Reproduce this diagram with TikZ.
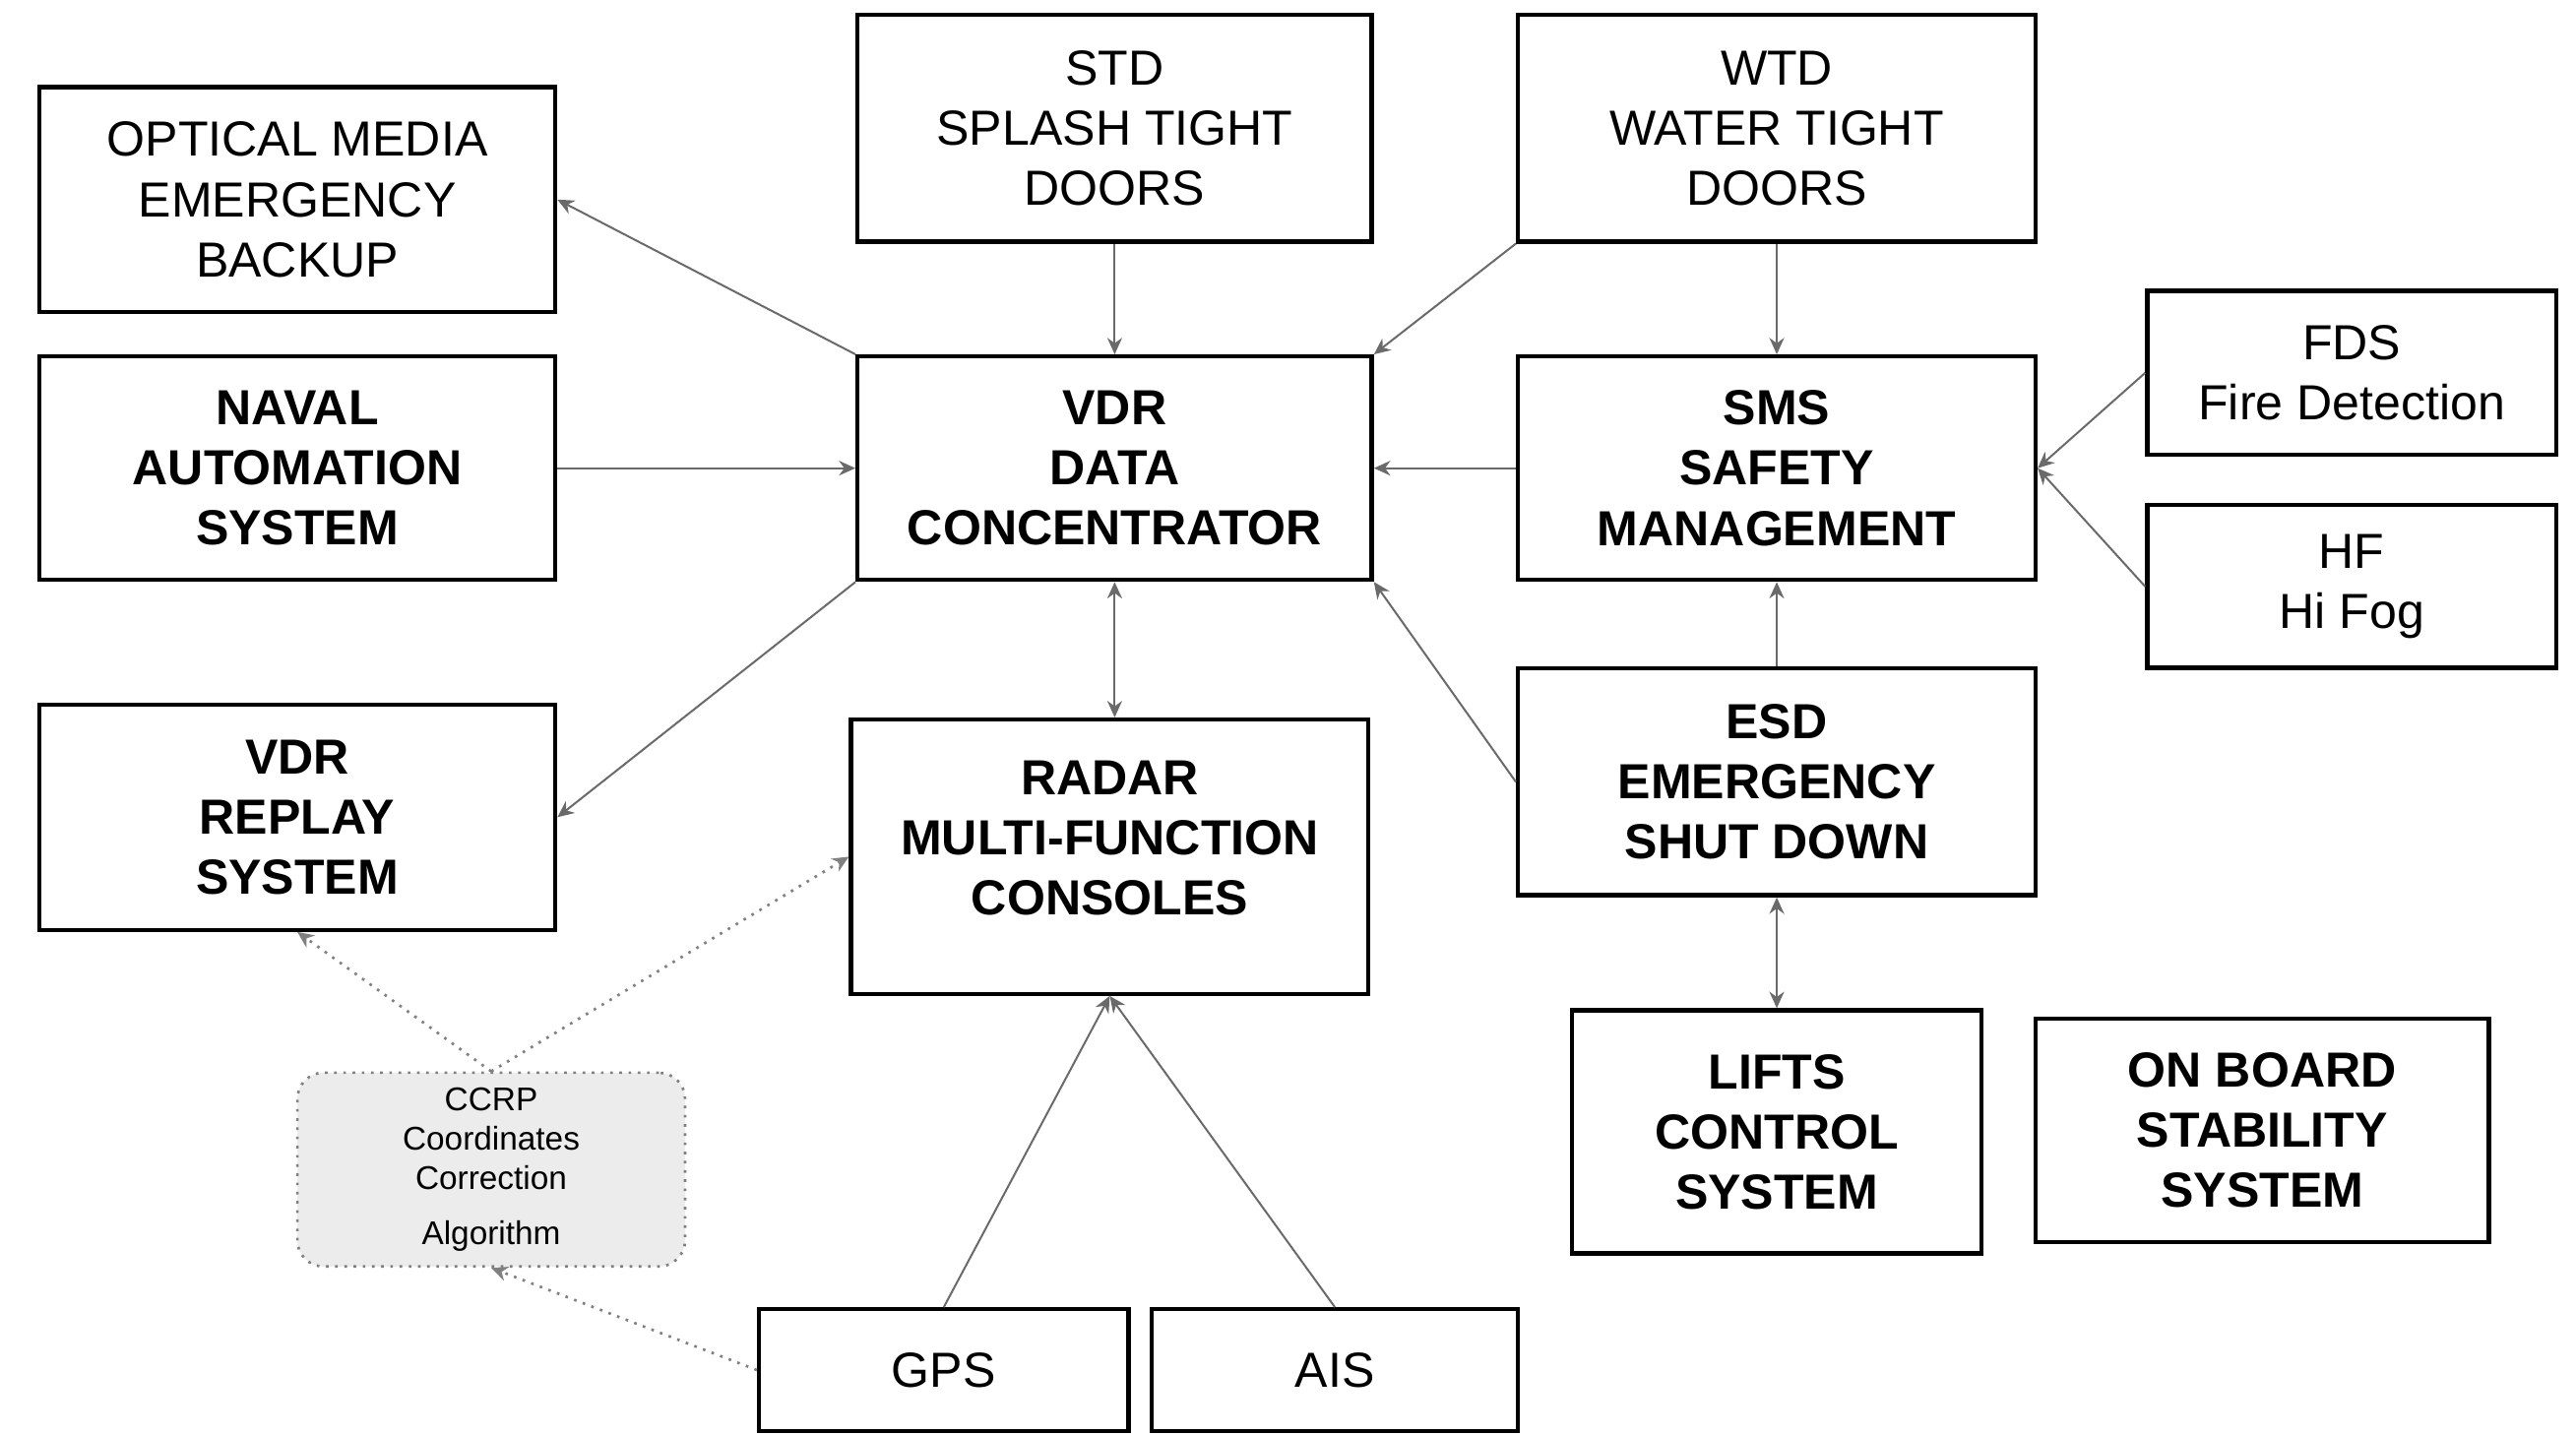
\documentclass[tikz,border=0pt]{standalone}
\usepackage{fontspec}
\setmainfont{Liberation Sans}
\usetikzlibrary{arrows.meta}
\definecolor{linkgray}{HTML}{6A6A6A}
\definecolor{ccrpfill}{HTML}{ECECEC}
\begin{document}
\begin{tikzpicture}[x=0.5pt,y=-0.5pt,
  box/.style={draw=black,line width=1.3pt,fill=white,align=center,
    font=\fontsize{15}{18.3}\selectfont,inner sep=0pt},
  boldbox/.style={box,font=\fontsize{15}{18.3}\selectfont\bfseries},
  conn/.style={draw=linkgray,line width=0.6pt,-{Stealth[length=5pt,width=4.5pt]}},
  biconn/.style={conn,{Stealth[length=5pt,width=4.5pt]}-{Stealth[length=5pt,width=4.5pt]}},
  dotconn/.style={draw=gray,line width=0.8pt,dotted,-{Stealth[length=5pt,width=4.5pt]}},
  note/.style={draw=gray,line width=0.8pt,dotted,fill=ccrpfill,rounded corners=8pt,
    align=center,font=\fontsize{10}{12}\selectfont,inner sep=0pt}]
\useasboundingbox (0,0) rectangle (1568,873);

% left column
\node[box,minimum width=157pt,minimum height=68.5pt] (optical) at (181,121.5)
  {OPTICAL MEDIA\\EMERGENCY\\BACKUP};
\node[boldbox,minimum width=157pt,minimum height=68pt] (naval) at (181,285)
  {NAVAL\\AUTOMATION\\SYSTEM};
\node[boldbox,minimum width=157pt,minimum height=68.5pt] (replay) at (181,497.5)
  {VDR\\REPLAY\\SYSTEM};

% centre column
\node[box,minimum width=156.5pt,minimum height=69pt] (std) at (678.5,78)
  {STD\\SPLASH TIGHT\\DOORS};
\node[boldbox,minimum width=156.5pt,minimum height=68pt] (vdr) at (678.5,285)
  {VDR\\DATA\\CONCENTRATOR};
\node[boldbox,minimum width=157.5pt,minimum height=83.5pt] (radar) at (675.5,521.5) {};
\node[font=\fontsize{15}{18.3}\selectfont\bfseries,align=center] (radartext) at (675.5,510)
  {RADAR\\MULTI-FUNCTION\\CONSOLES};

% right column
\node[box,minimum width=157.5pt,minimum height=69pt] (wtd) at (1081.5,78)
  {WTD\\WATER TIGHT\\DOORS};
\node[boldbox,minimum width=157.5pt,minimum height=68pt] (sms) at (1081.5,285)
  {SMS\\SAFETY\\MANAGEMENT};
\node[boldbox,minimum width=157.5pt,minimum height=69pt] (esd) at (1081.5,476)
  {ESD\\EMERGENCY\\SHUT DOWN};
\node[boldbox,minimum width=124.5pt,minimum height=74pt] (lifts) at (1081.5,689)
  {LIFTS\\CONTROL\\SYSTEM};
\node[boldbox,minimum width=138pt,minimum height=68pt] (onboard) at (1377,688)
  {ON BOARD\\STABILITY\\SYSTEM};

% fire and fog subsystems
\node[box,minimum width=124.5pt,minimum height=50pt] (fds) at (1431.5,227)
  {FDS\\Fire Detection};
\node[box,minimum width=124.5pt,minimum height=49.5pt] (hf) at (1431.5,357)
  {HF\\Hi Fog};

% positioning sources
\node[box,minimum width=112.5pt,minimum height=37pt] (gps) at (574.5,834) {GPS};
\node[box,minimum width=111.5pt,minimum height=37pt] (ais) at (812.5,834) {AIS};

% coordinate correction
\node[note,minimum width=118pt,minimum height=59pt] (ccrp) at (299,712)
  {CCRP\\Coordinates\\Correction\\[5pt]Algorithm};

% data links
\draw[conn] (vdr.north west) -- (optical.east);
\draw[conn] (naval.east) -- (vdr.west);
\draw[conn] (vdr.south west) -- (replay.east);
\draw[conn] (std.south) -- (vdr.north);
\draw[conn] (wtd.south west) -- (vdr.north east);
\draw[conn] (wtd.south) -- (sms.north);
\draw[conn] (sms.west) -- (vdr.east);
\draw[conn] (fds.west) -- (sms.east);
\draw[conn] (hf.west) -- (sms.east);
\draw[conn] (esd.north) -- (sms.south);
\draw[conn] (esd.west) -- (vdr.south east);
\draw[biconn] (vdr.south) -- (radar.north -| vdr.south);
\draw[biconn] (esd.south) -- (lifts.north);
\draw[conn] (gps.north) -- (radar.south);
\draw[conn] (ais.north) -- (radar.south);

% correction paths
\draw[dotconn] (ccrp.north) -- (replay.south);
\draw[dotconn] (ccrp.north) -- (radar.west);
\draw[dotconn] (gps.west) -- (ccrp.south);
\end{tikzpicture}
\end{document}
